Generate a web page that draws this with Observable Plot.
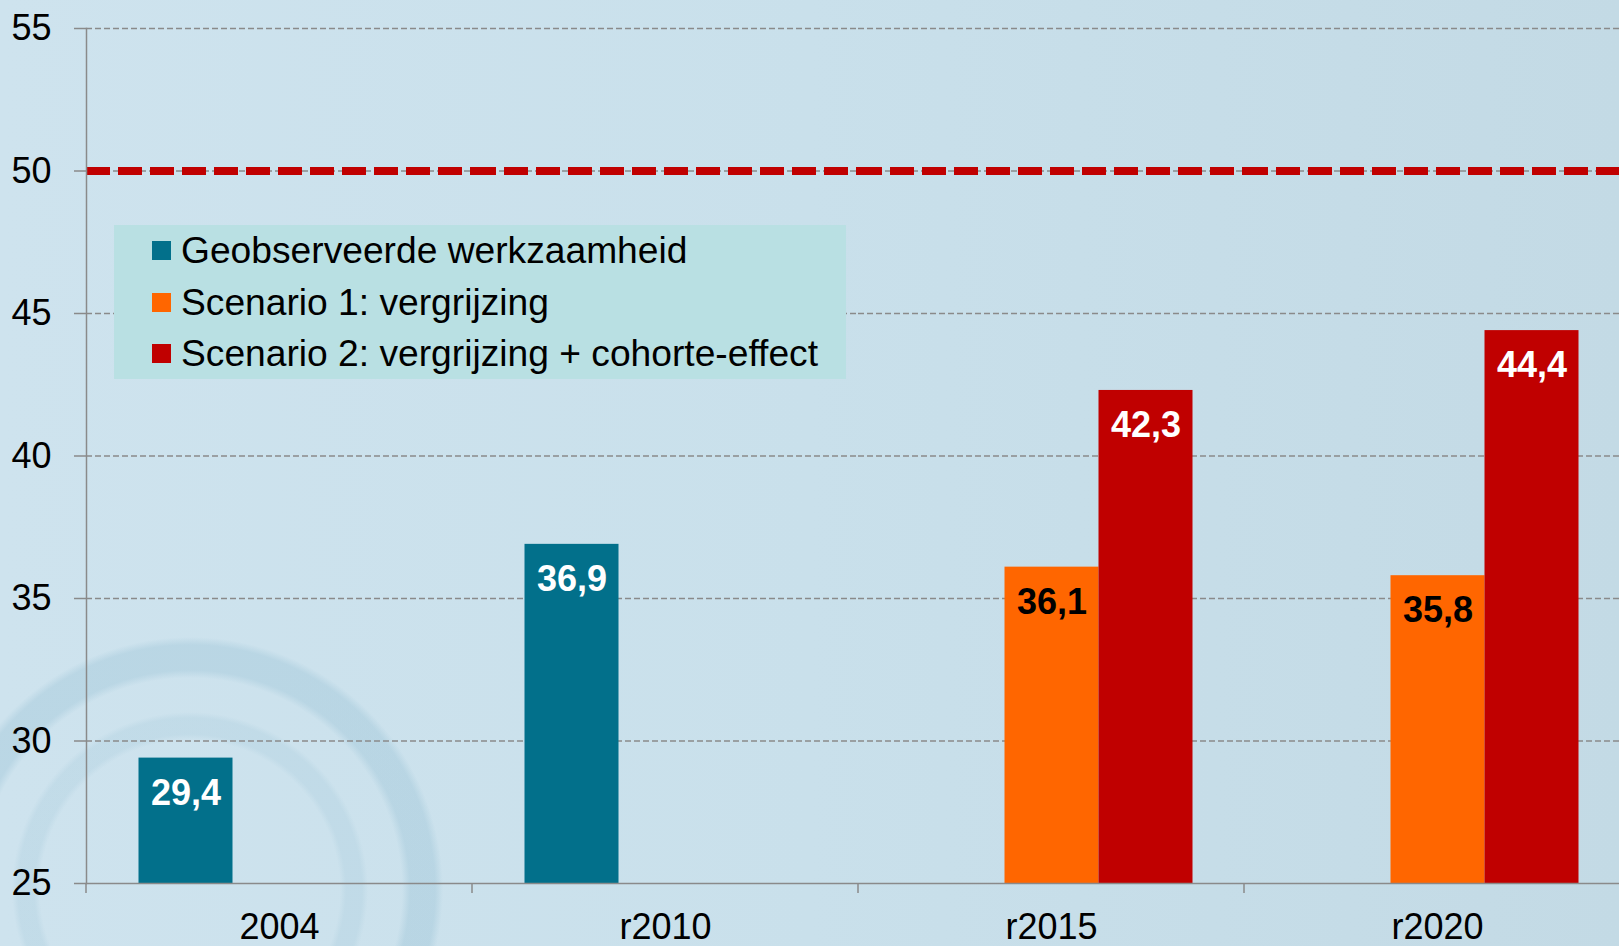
<!DOCTYPE html>
<html>
<head>
<meta charset="utf-8">
<script src="https://cdn.jsdelivr.net/npm/d3@7"></script>
<script src="https://cdn.jsdelivr.net/npm/@observablehq/plot@0.6"></script>
<style>
  html, body { margin: 0; padding: 0; }
  body { width: 1619px; height: 946px; overflow: hidden; }
  #wrap {
    position: relative; width: 1619px; height: 946px; overflow: hidden;
    background:
      radial-gradient(circle at 190px 890px, rgba(0,0,0,0) 212px, rgba(150,192,212,0.35) 220px, rgba(150,192,212,0.35) 245px, rgba(0,0,0,0) 253px),
      radial-gradient(circle at 190px 890px, rgba(0,0,0,0) 150px, rgba(160,198,216,0.25) 156px, rgba(160,198,216,0.25) 172px, rgba(0,0,0,0) 178px),
      linear-gradient(to right, #cee3ee 0%, #c9e0eb 50%, #c3dae5 100%);
    font-family: "Liberation Sans", Arial, sans-serif;
  }
  #legend {
    position: absolute; left: 114px; top: 225px; width: 732px; height: 154px;
    background: #b9e0e3; box-sizing: border-box; padding-left: 38px; padding-top: 0px;
    font-size: 37.2px; color: #000;
  }
  #legend .row { height: 51.5px; line-height: 51.5px; display: flex; align-items: center; white-space: nowrap; }
  #legend .sw { width: 19px; height: 19px; margin-right: 10px; flex: none; }
  svg { position: absolute; left: 0; top: 0; }
</style>
</head>
<body>
<div id="wrap"></div>
<script>
// ---- data ----
const categories = ["2004", "r2010", "r2015", "r2020"];
const series = ["Geobserveerde werkzaamheid", "Scenario 1: vergrijzing", "Scenario 2: vergrijzing + cohorte-effect"];
const seriesColors = ["#02708b", "#ff6600", "#c00000"];
const observed  = [29.4, 36.9, null, null];
const scenario1 = [null, null, 36.1, 35.8];
const scenario2 = [null, null, 42.3, 44.4];
const yTicks = [25, 30, 35, 40, 45, 50, 55];
const gridTicks = [30, 35, 40, 45, 50, 55];
const targetLine = [50];
const yDomain = [25, 55];

const seriesValues = [observed, scenario1, scenario2];
const rows = [];
categories.forEach((c, i) => {
  series.forEach((s, j) => {
    const v = seriesValues[j][i];
    if (v != null) rows.push({category: c, series: s, value: v});
  });
});
const fmt = v => v.toFixed(1).replace(".", ",");

const chart = Plot.plot({
  width: 1619,
  height: 946,
  marginTop: 28,
  marginBottom: 63,
  marginLeft: 85.5,
  marginRight: -11.5,
  style: {background: "transparent", fontFamily: "'Liberation Sans', Arial, sans-serif", color: "#000", overflow: "visible"},
  fx: {domain: categories, padding: 0, label: null},
  x: {domain: series, paddingInner: 0, paddingOuter: 0.54, axis: null},
  y: {domain: yDomain},
  color: {domain: series, range: seriesColors},
  marks: [
    Plot.ruleY(gridTicks, {stroke: "#8a8a8a", strokeWidth: 1.5, strokeDasharray: "6,3"}),
    Plot.ruleY(targetLine, {stroke: "#c00000", strokeWidth: 8, strokeDasharray: "24,8"}),
    Plot.barY(rows, {fx: "category", x: "series", y1: yDomain[0], y2: "value", fill: "series"}),
    Plot.text(rows.filter(d => d.series !== series[1]), {
      fx: "category", x: "series", y: "value", text: d => fmt(d.value),
      dy: 35, fill: "#ffffff", fontWeight: "bold", fontSize: 36
    }),
    Plot.text(rows.filter(d => d.series === series[1]), {
      fx: "category", x: "series", y: "value", text: d => fmt(d.value),
      dy: 35, fill: "#000000", fontWeight: "bold", fontSize: 36
    }),
    Plot.frame({anchor: "left", facet: "super", stroke: "#8a8a8a", strokeWidth: 1.5}),
    Plot.frame({anchor: "bottom", facet: "super", stroke: "#8a8a8a", strokeWidth: 1.5}),
    Plot.axisY({ticks: yTicks, tickSize: 12, tickPadding: 23, fontSize: 36, stroke: "#8a8a8a", strokeWidth: 1.5, label: null, tickFormat: d => String(d)}),
    Plot.axisFx({anchor: "bottom", tickSize: 0, tickPadding: 30, fontSize: 36, label: null})
  ]
});

const wrap = document.getElementById("wrap");
wrap.appendChild(chart);

// category boundary ticks on the x axis, positioned via the plot's own scales
const svgEl = chart.tagName.toLowerCase() === "svg" ? chart : chart.querySelector("svg");
const fxS = chart.scale("fx");
const yS = chart.scale("y");
const y0 = yS.apply(yDomain[0]);
d3.select(svgEl).append("g")
  .attr("stroke", "#8a8a8a").attr("stroke-width", 1.5)
  .selectAll("line").data(categories).join("line")
  .attr("x1", d => fxS.apply(d)).attr("x2", d => fxS.apply(d))
  .attr("y1", y0).attr("y2", y0 + 10);

// legend (inside the plot area, as in the original)
const legend = document.createElement("div");
legend.id = "legend";
series.forEach((s, i) => {
  const row = document.createElement("div");
  row.className = "row";
  const sw = document.createElement("span");
  sw.className = "sw";
  sw.style.background = seriesColors[i];
  const label = document.createElement("span");
  label.textContent = s;
  row.appendChild(sw);
  row.appendChild(label);
  legend.appendChild(row);
});
wrap.appendChild(legend);
</script>
</body>
</html>
